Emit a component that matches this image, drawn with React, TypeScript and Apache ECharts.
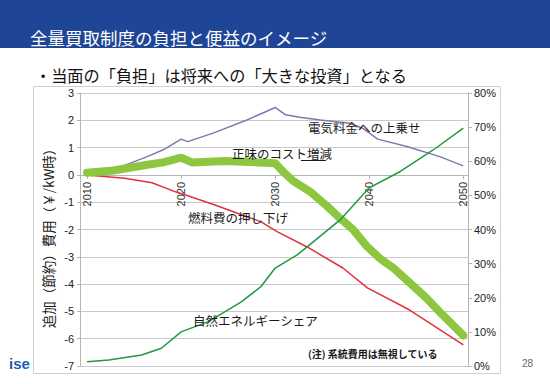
import React, { useEffect, useRef } from "react";
import * as echarts from "echarts";

const TITLE = "全量買取制度の負担と便益のイメージ";
const SUBTITLE = "・当面の「負担」は将来への「大きな投資」となる";
const Y_LEFT_NAME = "追加（節約）費用（￥/kW時）";
const X_TICKS = [2010, 2020, 2030, 2040, 2050];
const LABEL_SURCHARGE = "電気料金への上乗せ";
const LABEL_NET = "正味のコスト増減";
const LABEL_FUEL = "燃料費の押し下げ";
const LABEL_SHARE = "自然エネルギーシェア";
const NOTE = "(注) 系統費用は無視している";
const PAGE_NO = "28";

// 電気料金への上乗せ (円/kWh)
const surcharge: [number, number][] = [
  [2010, 0.1], [2012.8, 0.2], [2014.6, 0.43], [2016.4, 0.67], [2018.1, 0.92],
  [2020, 1.31], [2020.7, 1.22], [2023.4, 1.53], [2027, 2.01], [2030, 2.47],
  [2031.1, 2.2], [2032.6, 2.11], [2034.8, 2.01], [2037.9, 1.89], [2039.3, 1.71],
  [2040.9, 1.31], [2044, 1.04], [2047.5, 0.67], [2050, 0.33],
];
// 燃料費の押し下げ
const fuelSaving: [number, number][] = [
  [2010, 0], [2014, -0.12], [2016.9, -0.29], [2019.4, -0.62], [2020.4, -0.73],
  [2023.6, -1.1], [2026.5, -1.47], [2028.5, -1.72], [2030.2, -2.08], [2033.4, -2.64],
  [2037.2, -3.41], [2039.8, -4.14], [2044.3, -4.95], [2050, -6.23],
];
// 正味のコスト増減
const netCost: [number, number][] = [
  [2010, 0.08], [2012.8, 0.16], [2016.4, 0.37], [2018.1, 0.46], [2020, 0.63],
  [2021.2, 0.45], [2024.7, 0.51], [2030, 0.43], [2030.9, 0.1], [2031.9, -0.22],
  [2033.7, -0.61], [2035.5, -1.14], [2036.9, -1.59], [2038.3, -2.01], [2039.7, -2.6],
  [2041.1, -3.05], [2042.6, -3.42], [2044.3, -3.95], [2046.1, -4.52], [2047.8, -5.13],
  [2050, -5.88],
];
// 自然エネルギーシェア (%)
const renewableShare: [number, number][] = [
  [2010, 1.26], [2012.3, 1.76], [2015.8, 3.2], [2017.9, 5.2], [2020, 10],
  [2022.9, 13], [2026.4, 18.8], [2028.5, 23.3], [2030, 28.7], [2032.3, 32.5],
  [2033.4, 34.9], [2036.9, 42.8], [2040, 52.2], [2043.3, 57], [2046.8, 63.3],
  [2050, 69.7],
];

const JP = "'Noto Sans CJK JP', sans-serif";
const LAT = "'Liberation Sans', Arial, sans-serif";

const GRID_TOP = 93;
const GRID_BOTTOM = 18;
const CHART_H = 384;
const Y_MIN = -7;
const Y_MAX = 3;

export default function App() {
  const ref = useRef<HTMLDivElement>(null);
  useEffect(() => {
    const chart = echarts.init(ref.current!, null, { renderer: "svg" });
    const plotH = CHART_H - GRID_TOP - GRID_BOTTOM;
    // move the x axis up from the bottom of the grid to the y = 0 line
    const zeroOffset = -(plotH * (0 - Y_MIN)) / (Y_MAX - Y_MIN);
    const annot = (text: string, x: number, y: number, extra: any = {}) => ({
      type: "text",
      x,
      y,
      style: {
        text,
        fill: "#1a1a1a",
        fontSize: 12.5,
        fontFamily: JP,
        verticalAlign: "middle",
        align: "left",
        ...extra,
      },
      z: 10,
    });
    chart.setOption({
      animation: false,
      backgroundColor: "#ffffff",
      textStyle: { fontFamily: LAT },
      grid: { left: 80, right: 82, top: GRID_TOP, bottom: GRID_BOTTOM, outerBoundsMode: "none" },
      xAxis: {
        type: "value",
        min: 2009.25,
        max: 2050.5,
        offset: zeroOffset,
        axisLine: { show: true, onZero: false, lineStyle: { color: "#b5b5b5" } },
        axisTick: { show: true, customValues: X_TICKS, length: 4, lineStyle: { color: "#b5b5b5" } },
        axisLabel: {
          customValues: X_TICKS,
          rotate: 90,
          margin: 7,
          fontSize: 11,
          color: "#333",
          fontFamily: LAT,
          formatter: (v: number) => String(Math.round(v)),
        },
        splitLine: { show: false },
      },
      yAxis: [
        {
          type: "value",
          min: Y_MIN,
          max: Y_MAX,
          interval: 1,
          position: "left",
          axisLine: { show: true, onZero: false, lineStyle: { color: "#b5b5b5" } },
          axisTick: { show: true, length: 3, lineStyle: { color: "#b5b5b5" } },
          axisLabel: { fontSize: 11, color: "#222", margin: 6, fontFamily: LAT },
          splitLine: { show: true, lineStyle: { color: "#c9c9c9", width: 1 } },
        },
        {
          type: "value",
          min: 0,
          max: 80,
          interval: 10,
          position: "right",
          axisLine: { show: true, onZero: false, lineStyle: { color: "#b5b5b5" } },
          axisTick: { show: true, length: 4, lineStyle: { color: "#b5b5b5" } },
          axisLabel: { fontSize: 11, color: "#222", margin: 6, formatter: "{value}%", fontFamily: LAT },
          splitLine: { show: false },
        },
      ],
      series: [
        {
          name: LABEL_SURCHARGE,
          type: "line",
          data: surcharge,
          symbol: "none",
          lineStyle: { color: "#7e78b3", width: 1.5 },
          z: 2,
        },
        {
          name: LABEL_FUEL,
          type: "line",
          data: fuelSaving,
          symbol: "none",
          lineStyle: { color: "#e0323c", width: 1.5 },
          z: 2,
        },
        {
          name: LABEL_NET,
          type: "line",
          data: netCost,
          symbol: "none",
          lineStyle: { color: "#8dc63f", width: 8, cap: "round", join: "round" },
          z: 3,
        },
        {
          name: LABEL_SHARE,
          type: "line",
          yAxisIndex: 1,
          data: renewableShare,
          symbol: "none",
          lineStyle: { color: "#1f9a40", width: 1.5 },
          z: 4,
        },
      ],
      graphic: [
        { type: "rect", shape: { x: 0, y: 0, width: 550, height: 48 }, style: { fill: "#1f4597" }, z: 0 },
        {
          type: "text", x: 30, y: 37,
          style: { text: TITLE, fill: "#ffffff", fontSize: 17.5, fontFamily: JP, verticalAlign: "middle", align: "left" },
          z: 10,
        },
        {
          type: "text", x: 35, y: 75,
          style: { text: SUBTITLE, fill: "#111", fontSize: 16.2, fontFamily: JP, verticalAlign: "middle", align: "left" },
          z: 10,
        },
        {
          type: "rect", shape: { x: 33.5, y: 86.5, width: 467, height: 287 },
          style: { fill: "none", stroke: "#d0d0d0", lineWidth: 1 }, z: 0,
        },
        {
          type: "text", x: 48, y: 235, rotation: Math.PI / 2,
          style: { text: Y_LEFT_NAME, fill: "#1a1a1a", fontSize: 13.5, fontFamily: JP, verticalAlign: "middle", align: "center" },
          z: 10,
        },
        annot(LABEL_SURCHARGE, 308, 127),
        annot(LABEL_NET, 232, 153),
        { type: "line", shape: { x1: 301, y1: 160.5, x2: 326, y2: 160.5 }, style: { stroke: "#1a1a1a", lineWidth: 1 }, z: 10 },
        annot(LABEL_FUEL, 188, 217),
        annot(LABEL_SHARE, 193, 320),
        annot(NOTE, 308, 353, { fontSize: 10, fontWeight: "bold" }),
        {
          type: "text", x: 522, y: 363,
          style: { text: PAGE_NO, fill: "#666", fontSize: 10, fontFamily: LAT, verticalAlign: "middle", align: "left" },
          z: 10,
        },
        {
          type: "text", x: 9, y: 363,
          style: { text: "ise", fill: "#1f5fae", fontSize: 15, fontWeight: "bold", fontFamily: LAT, verticalAlign: "middle", align: "left" },
          z: 10,
        },
      ],
    });
    return () => chart.dispose();
  }, []);
  return (
    <div
      ref={ref}
      style={{ position: "fixed", left: 0, top: 0, width: 550, height: 384, background: "#fff" }}
    />
  );
}
